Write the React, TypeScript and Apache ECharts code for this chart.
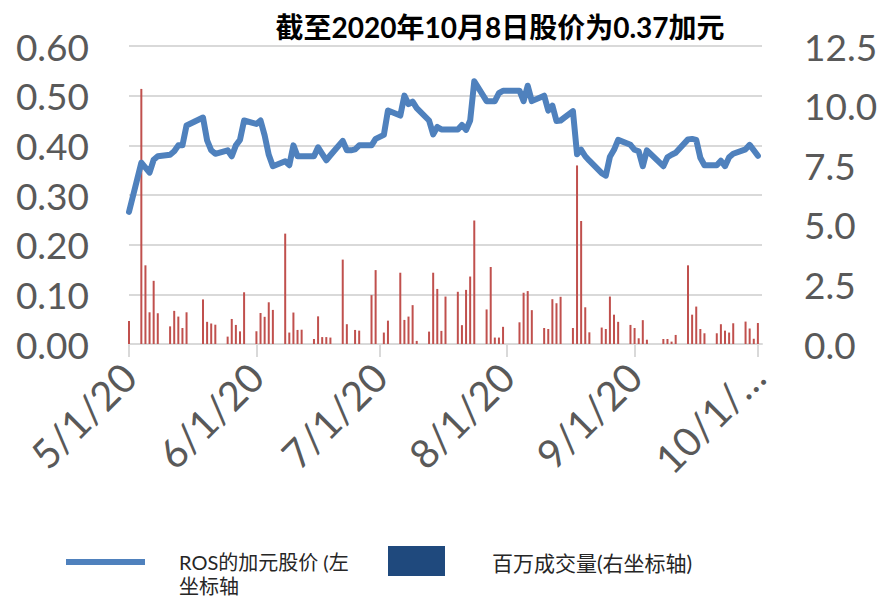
import React, { useEffect, useRef } from "react";
import * as echarts from "echarts";

const titleText = "截至2020年10月8日股价为0.37加元";
const priceName = "ROS的加元股价 (左\n坐标轴";
const volumeName = "百万成交量(右坐标轴)";

// calendar span of the date axis: [month, number of days shown]
const monthDays: [number, number][] = [[5, 31], [6, 30], [7, 31], [8, 31], [9, 30], [10, 2]];

const tradeDates = [
  "5/1", "5/4", "5/5", "5/6", "5/7", "5/8", "5/11", "5/12", "5/13", "5/14", "5/15", "5/19", "5/20", "5/21", "5/22", "5/25", "5/26", "5/27", "5/28", "5/29",
  "6/1", "6/2", "6/3", "6/4", "6/5", "6/8", "6/9", "6/10", "6/11", "6/12", "6/15", "6/16", "6/17", "6/18", "6/19", "6/22", "6/23", "6/24", "6/25", "6/26", "6/29", "6/30",
  "7/2", "7/3", "7/6", "7/7", "7/8", "7/9", "7/10", "7/13", "7/14", "7/15", "7/16", "7/17", "7/20", "7/21", "7/22", "7/23", "7/24", "7/27", "7/28", "7/29", "7/30", "7/31",
  "8/4", "8/5", "8/6", "8/7", "8/10", "8/11", "8/12", "8/13", "8/14", "8/17", "8/18", "8/19", "8/20", "8/21", "8/24", "8/25", "8/26", "8/27", "8/28", "8/31",
  "9/1", "9/2", "9/3", "9/4", "9/8", "9/9", "9/10", "9/11", "9/14", "9/15", "9/16", "9/17", "9/18", "9/21", "9/22", "9/23", "9/24", "9/25", "9/28", "9/29", "9/30",
  "10/1",
];

const prices = [
  0.266, 0.365, 0.355, 0.345, 0.371, 0.378, 0.381, 0.388, 0.4, 0.4, 0.44, 0.456, 0.41, 0.39, 0.383, 0.39, 0.378, 0.4, 0.411, 0.45,
  0.443, 0.45, 0.42, 0.381, 0.358, 0.368, 0.36, 0.4, 0.378, 0.378, 0.378, 0.396, 0.383, 0.37, 0.38, 0.409, 0.39, 0.39, 0.392, 0.4, 0.4, 0.413,
  0.421, 0.47, 0.46, 0.5, 0.483, 0.488, 0.475, 0.45, 0.422, 0.437, 0.432, 0.432, 0.432, 0.441, 0.431, 0.45, 0.529, 0.489, 0.489, 0.489, 0.505, 0.51,
  0.51, 0.489, 0.52, 0.489, 0.5, 0.47, 0.48, 0.449, 0.45, 0.469, 0.382, 0.391, 0.378, 0.369, 0.344, 0.339, 0.377, 0.391, 0.411, 0.401,
  0.391, 0.388, 0.358, 0.39, 0.358, 0.376, 0.381, 0.385, 0.412, 0.413, 0.411, 0.375, 0.36, 0.36, 0.369, 0.358, 0.376, 0.383, 0.392, 0.401, 0.39,
  0.379,
];

const volumes = [
  0.96, 10.7, 3.3, 1.33, 2.65, 1.29, 0.74, 1.39, 1.15, 0.67, 1.33, 1.87, 0.93, 0.86, 0.81, 0.31, 1.05, 0.8, 0.53, 2.17,
  0.53, 1.3, 1.14, 1.75, 1.43, 4.63, 0.48, 1.32, 0.59, 0.6, 0.21, 1.16, 0.29, 0.29, 0.27, 3.54, 0.83, 0, 0.59, 0.56, 2.05, 3.1,
  0.48, 0.98, 2.99, 1.01, 1.15, 1.63, 0.13, 0.52, 2.99, 2.31, 0.55, 1.99, 2.19, 0.79, 2.27, 2.83, 5.18, 1.45, 3.23, 0.27, 0.27, 0.72,
  0.91, 2.15, 2.22, 1.42, 0.67, 0.63, 1.88, 1.71, 1.98, 0.67, 7.49, 5.16, 1.54, 0.49, 0.69, 0.63, 1.99, 1.23, 0.93, 0.8,
  0.67, 0.24, 1.0, 0.18, 0.21, 0.21, 0.1, 0.38, 3.3, 1.23, 1.57, 0.63, 0.45, 0.45, 0.83, 0.56, 0.48, 0.87, 0.94, 0.65, 0.22,
  0.88,
];

const FONT = "Lato, 'Noto Sans CJK SC', sans-serif";

export default function App() {
  const ref = useRef<HTMLDivElement>(null);

  useEffect(() => {
    if (!ref.current) return;
    const chart = echarts.init(ref.current, undefined, { renderer: "svg" });

    const categories: string[] = [];
    monthDays.forEach(([m, n]) => {
      for (let d = 1; d <= n; d++) categories.push(`${m}/${d}`);
    });
    const priceData = categories.map((c) => {
      const i = tradeDates.indexOf(c);
      return i >= 0 ? prices[i] : null;
    });
    const volumeData = categories.map((c) => {
      const i = tradeDates.indexOf(c);
      return i >= 0 ? volumes[i] : null;
    });
    const isMonthStart = (_i: number, v: string) => v.split("/")[1] === "1";

    chart.setOption({
      animation: false,
      backgroundColor: "#ffffff",
      grid: { left: 129, right: 118, top: 46, bottom: 254, containLabel: false, outerBoundsMode: "none" },
      xAxis: {
        type: "category",
        data: categories,
        boundaryGap: false,
        axisLine: { show: true, lineStyle: { color: "#D9D9D9", width: 2 } },
        axisTick: { show: true, interval: isMonthStart, length: 13, lineStyle: { color: "#D9D9D9", width: 2 } },
        axisLabel: {
          interval: isMonthStart,
          rotate: 45,
          margin: 26,
          fontSize: 40,
          fontFamily: FONT,
          color: "#595959",
          formatter: (v: string) => (v === "10/1" ? "10/1/…" : v + "/20"),
        },
        splitLine: { show: false },
      },
      yAxis: [
        {
          type: "value",
          min: 0,
          max: 0.6,
          interval: 0.1,
          axisLine: { show: false },
          axisTick: { show: false },
          axisLabel: {
            fontSize: 37,
            fontFamily: FONT,
            color: "#595959",
            margin: 40,
            formatter: (v: number) => v.toFixed(2),
          },
          splitLine: { show: true, lineStyle: { color: "#D9D9D9", width: 2 } },
        },
        {
          type: "value",
          min: 0,
          max: 12.5,
          interval: 2.5,
          axisLine: { show: false },
          axisTick: { show: false },
          axisLabel: {
            fontSize: 37,
            fontFamily: FONT,
            color: "#595959",
            margin: 42,
            formatter: (v: number) => v.toFixed(1),
          },
          splitLine: { show: false },
        },
      ],
      series: [
        {
          name: volumeName,
          type: "bar",
          yAxisIndex: 1,
          data: volumeData,
          barWidth: 2,
          itemStyle: { color: "#C0504D" },
          z: 2,
        },
        {
          name: priceName,
          type: "line",
          yAxisIndex: 0,
          data: priceData,
          connectNulls: true,
          showSymbol: false,
          symbol: "none",
          lineStyle: { color: "#4F81BD", width: 6, cap: "round", join: "round" },
          z: 3,
        },
      ],
      graphic: [
        {
          type: "text",
          x: 500,
          y: 27,
          style: {
            text: titleText,
            font: `bold 28px ${FONT}`,
            fill: "#000000",
            textAlign: "center",
            textVerticalAlign: "middle",
          },
        },
        {
          type: "line",
          shape: { x1: 66, y1: 562, x2: 145, y2: 562 },
          style: { stroke: "#4F81BD", lineWidth: 6 },
        },
        {
          type: "text",
          x: 179,
          y: 550,
          style: {
            text: priceName,
            font: `20px ${FONT}`,
            fill: "#262626",
            lineHeight: 24,
            textVerticalAlign: "top",
          },
        },
        {
          type: "rect",
          shape: { x: 388, y: 546, width: 57, height: 30 },
          style: { fill: "#1F497D" },
        },
        {
          type: "text",
          x: 492,
          y: 562,
          style: {
            text: volumeName,
            font: `21px ${FONT}`,
            fill: "#262626",
            textVerticalAlign: "middle",
          },
        },
      ],
    });

    return () => chart.dispose();
  }, []);

  return (
    <div
      ref={ref}
      style={{ position: "fixed", left: 0, top: 0, width: 880, height: 598, background: "#fff" }}
    />
  );
}
